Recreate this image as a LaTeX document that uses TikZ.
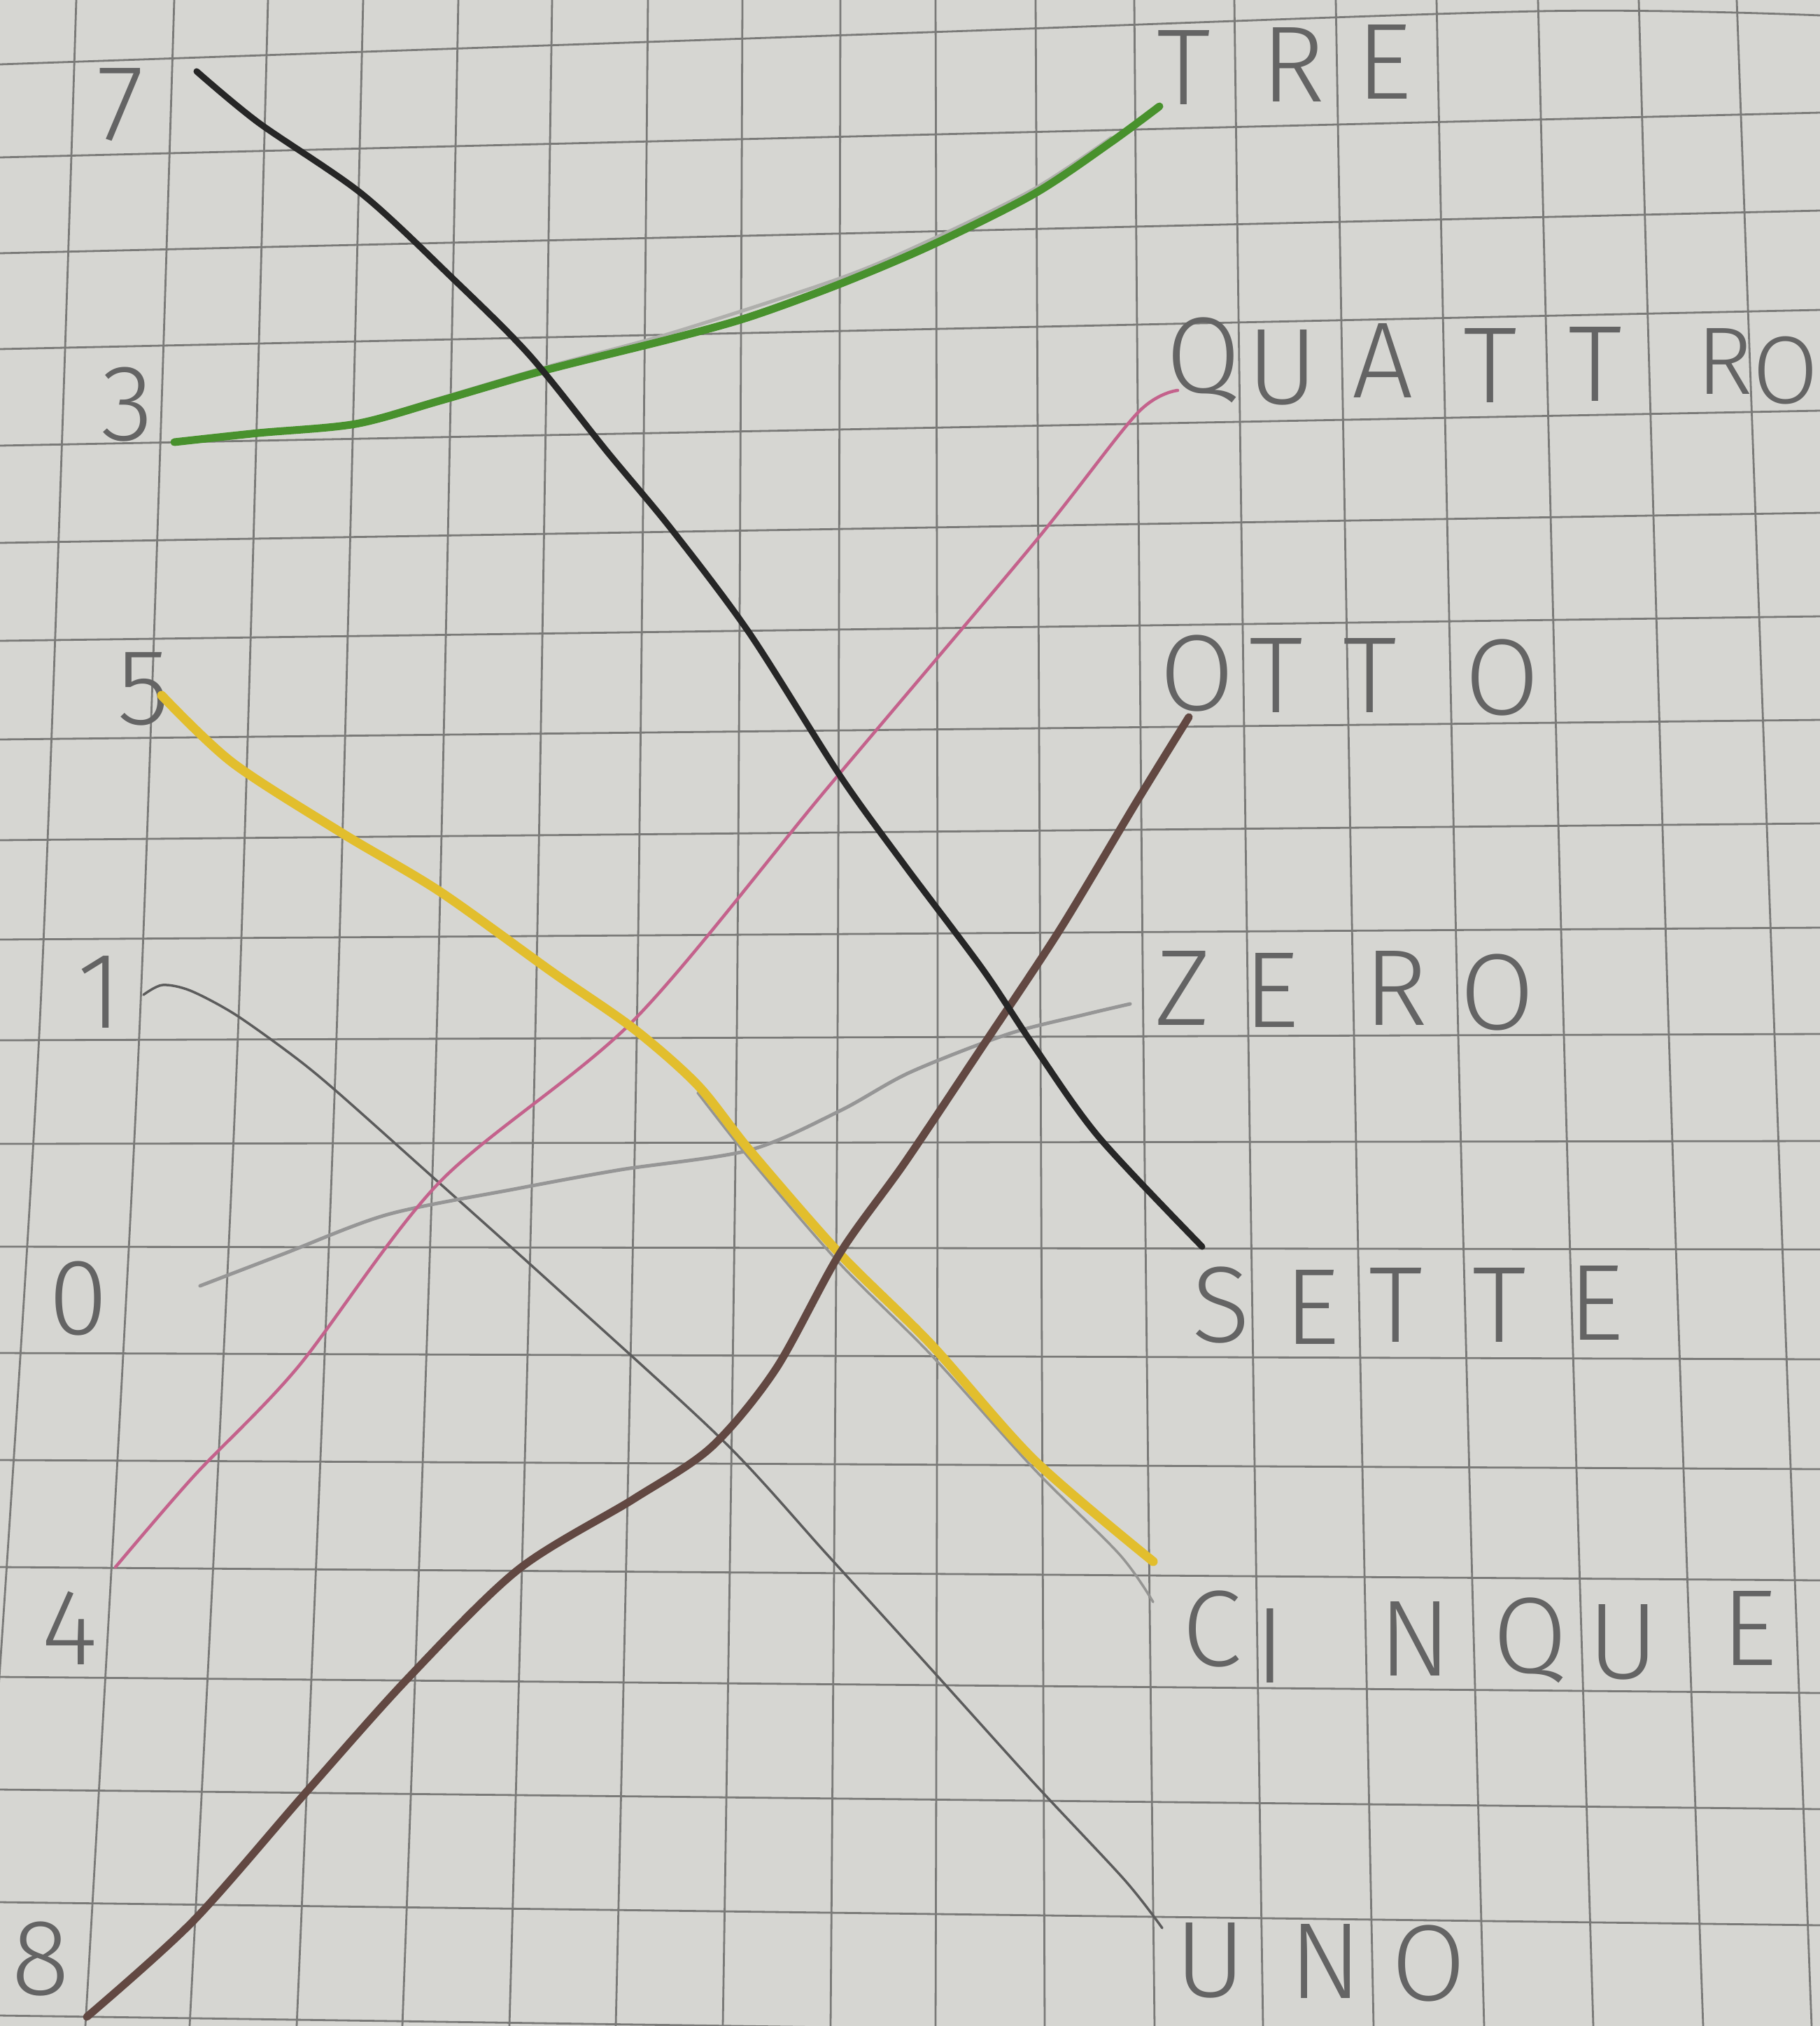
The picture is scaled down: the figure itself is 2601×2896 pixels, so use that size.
\documentclass[tikz,border=0pt]{standalone}
\usepackage{fontspec}
\newfontfamily\hand{Fira Sans Light}
\definecolor{paper}{RGB}{214,214,210}
\definecolor{gridc}{RGB}{122,122,120}
\definecolor{pencil}{RGB}{100,100,100}
\definecolor{cblack}{RGB}{38,38,38}
\definecolor{cgreen}{RGB}{72,145,45}
\definecolor{cpink}{RGB}{196,98,140}
\definecolor{cyellow}{RGB}{226,190,45}
\definecolor{cbrown}{RGB}{98,72,66}
\definecolor{cgreyA}{RGB}{92,92,92}
\definecolor{cgreyB}{RGB}{150,150,150}
\definecolor{cfaint}{RGB}{175,175,172}
\begin{document}
\begin{tikzpicture}[x=0.01cm,y=-0.01cm,
  gridline/.style={draw=gridc,line width=0.028cm},
  lab/.style={font=\hand\fontsize{44}{44}\selectfont,text=pencil,inner sep=0pt,anchor=center},
  labs/.style={lab,font=\hand\fontsize{39}{39}\selectfont},
  crayon/.style={line cap=round,line join=round},
]
\useasboundingbox (0,0) rectangle (2601,2896);
\fill[paper] (0,0) rectangle (2601,2896);
\begin{scope}
\clip (0,0) rectangle (2601,2896);
% horizontal grid lines
\draw[gridline] plot[smooth] coordinates {(0,92) (1300,47) (2200,16) (2601,22)};
\foreach \l/\r in {225/161,362/301,499/443,637/587,776/733,916/881,1057/1029,1201/1177,1343/1326,1487/1478,1635/1631,1782/1786,1934/1943,2087/2100,2240/2259,2397/2420,2558/2586,2719/2752,2881/2918}
  \draw[gridline] (0,\l) -- (2601,\r);
% vertical grid lines
\foreach \a/\b/\c in {109/56/-35,249/199/122,383/340/271,519/481/424,655/624/575,789/765/728,926/910/880,1061/1053/1033,1201/1197/1187,1337/1340/1337,1480/1487/1493,1621/1634/1650,1764/1784/1805,1909/1935/1963,2053/2084/2121,2198/2235/2277,2342/2385/2434,2482/2536/2589}
  \draw[gridline] plot[smooth] coordinates {(\a,0) (\b,1480) (\c,2896)};
\end{scope}

% numbers
\node[lab] (n7) at (172,150) {7};
\node[lab] (n3) at (182,578) {3};
\node[lab] (n5) at (205,985) {5};
\node[lab] (n1) at (142,1418) {1};
\node[lab] (n0) at (112,1856) {0};
\node[lab] (n4) at (100,2327) {4};
\node[lab] (n8) at (58,2800) {8};

% words
\node[lab] (treT) at (1692,96) {T};
\node[lab] (treR) at (1848,92) {R};
\node[lab] (treE) at (1978,88) {E};

\node[lab] (quaQ) at (1720,515) {Q};
\node[lab] (quaU) at (1833,525) {U};
\node[lab] (quaA) at (1976,515) {A};
\node[lab] (quaT) at (2130,522) {T};
\node[lab] (quaTT) at (2280,520) {T};
\node[labs] (quaR) at (2465,517) {R};
\node[labs] (quaO) at (2552,530) {O};

\node[lab] (ottO) at (1711,962) {O};
\node[lab] (ottT) at (1824,965) {T};
\node[lab] (ottTT) at (1958,965) {T};
\node[lab] (ottOO) at (2147,968) {O};

\node[lab] (zerZ) at (1690,1412) {Z};
\node[lab] (zerE) at (1817,1415) {E};
\node[lab] (zerR) at (1995,1412) {R};
\node[lab] (zerO) at (2140,1418) {O};

\node[lab] (setS) at (1745,1865) {S};
\node[lab] (setE) at (1875,1868) {E};
\node[lab] (setT) at (1995,1865) {T};
\node[lab] (setTT) at (2143,1865) {T};
\node[lab] (setEE) at (2281,1862) {E};

\node[lab] (cinC) at (1732,2328) {C};
\node[lab] (cinI) at (1815,2352) {I};
\node[lab] (cinN) at (2023,2342) {N};
\node[lab] (cinQ) at (2187,2345) {Q};
\node[lab] (cinU) at (2320,2347) {U};
\node[lab] (cinE) at (2500,2327) {E};

\node[lab] (unoU) at (1730,2802) {U};
\node[lab] (unoN) at (1895,2803) {N};
\node[lab] (unoO) at (2042,2806) {O};

% connector end points
\coordinate (s7) at (281,102);   \coordinate (e7) at (1718,1782);
\coordinate (s3) at (249,632);   \coordinate (e3) at (1657,152);
\coordinate (s4) at (165,2240);  \coordinate (e4) at (1683,558);
\coordinate (s5) at (231,994);   \coordinate (e5) at (1648,2232);
\coordinate (s1) at (205,1422);  \coordinate (e1) at (1661,2756);
\coordinate (s0) at (286,1838);  \coordinate (e0) at (1615,1435);
\coordinate (s8) at (124,2883);  \coordinate (e8) at (1699,1025);

% faint pencil guide lines under the crayons
\draw[crayon,draw=cfaint,line width=0.05cm] plot[smooth,tension=0.5] coordinates {(560,590) (776,526) (960,476) (1200,398) (1330,343) (1478,270) (1588,197)};
\draw[crayon,draw=gridc!80,line width=0.035cm] plot[smooth,tension=0.5] coordinates {(997,1562) (1071,1656) (1200,1806) (1330,1936) (1478,2100) (1600,2222) (1648,2290)};

% grey 1 -> UNO
\draw[crayon,draw=cgreyA,line width=0.035cm] plot[smooth,tension=0.5] coordinates {(s1) (232,1408) (272,1416) (336,1450) (420,1510) (481,1560) (610,1675) (794,1840) (1034,2060) (1182,2222) (1330,2385) (1478,2549) (1607,2687) (e1)};
% grey 0 -> ZERO
\draw[crayon,draw=cgreyB,line width=0.05cm] plot[smooth,tension=0.5] coordinates {(s0) (406,1792) (554,1736) (739,1699) (887,1672) (1071,1644) (1200,1588) (1300,1533) (1441,1478) (1551,1450) (e0)};
% pink 4 -> QUATTRO
\draw[crayon,draw=cpink,line width=0.045cm] plot[smooth,tension=0.5] coordinates {(s4) (277,2110) (425,1955) (628,1690) (905,1459) (1182,1127) (1478,776) (1625,591) (e4)};
% yellow 5 -> CINQUE
\draw[crayon,draw=cyellow,line width=0.13cm] plot[smooth,tension=0.5] coordinates {(s5) (332,1090) (489,1191) (628,1274) (790,1390) (905,1470) (997,1551) (1071,1644) (1200,1792) (1330,1921) (1478,2087) (e5)};
% brown 8 -> OTTO
\draw[crayon,draw=cbrown,line width=0.11cm] plot[smooth,tension=0.5] coordinates {(s8) (276,2746) (439,2560) (582,2400) (740,2244) (905,2143) (1016,2069) (1108,1958) (1200,1792) (1293,1662) (1404,1496) (1514,1330) (1625,1145) (e8)};
% green 3 -> TRE
\draw[crayon,draw=cgreen,line width=0.11cm] plot[smooth,tension=0.5] coordinates {(s3) (369,619) (508,606) (628,573) (776,530) (960,484) (1071,453) (1200,406) (1330,351) (1478,277) (1588,203) (e3)};
% black 7 -> SETTE
\draw[crayon,draw=cblack,line width=0.09cm] plot[smooth,tension=0.5] coordinates {(s7) (369,175) (517,277) (646,397) (757,508) (868,646) (960,757) (1071,905) (1200,1108) (1293,1237) (1404,1385) (1478,1496) (1570,1625) (e7)};
\end{tikzpicture}
\end{document}
